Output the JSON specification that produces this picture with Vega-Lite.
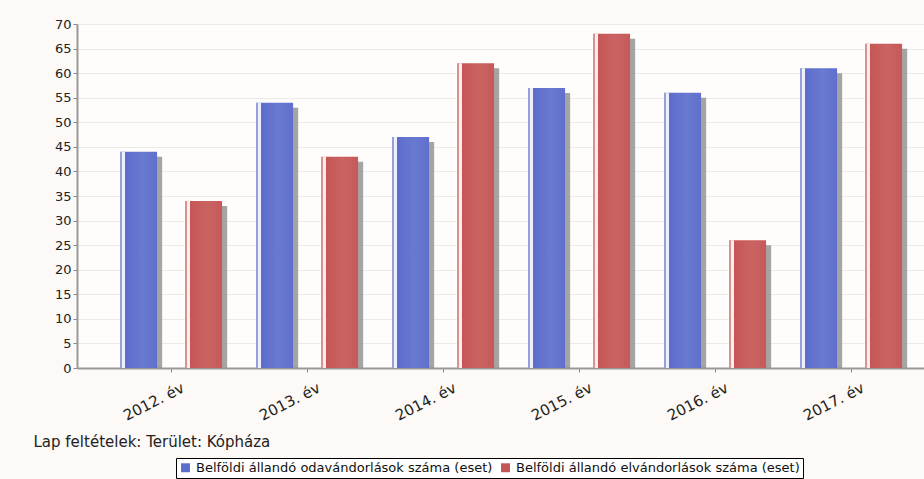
{
  "$schema": "https://vega.github.io/schema/vega-lite/v6.json",
  "width": 847,
  "height": 344,
  "autosize": {"type": "none"},
  "padding": {"left": 77, "top": 24, "right": 0, "bottom": 111},
  "background": "#fcf9f6",
  "config": {
    "view": {"stroke": null, "fill": "#fffdfb"},
    "font": "DejaVu Sans"
  },
  "data": {
    "values": [
      {"year": "2012. év", "series": "Belföldi állandó odavándorlások száma (eset)", "value": 44},
      {"year": "2012. év", "series": "Belföldi állandó elvándorlások száma (eset)", "value": 34},
      {"year": "2013. év", "series": "Belföldi állandó odavándorlások száma (eset)", "value": 54},
      {"year": "2013. év", "series": "Belföldi állandó elvándorlások száma (eset)", "value": 43},
      {"year": "2014. év", "series": "Belföldi állandó odavándorlások száma (eset)", "value": 47},
      {"year": "2014. év", "series": "Belföldi állandó elvándorlások száma (eset)", "value": 62},
      {"year": "2015. év", "series": "Belföldi állandó odavándorlások száma (eset)", "value": 57},
      {"year": "2015. év", "series": "Belföldi állandó elvándorlások száma (eset)", "value": 68},
      {"year": "2016. év", "series": "Belföldi állandó odavándorlások száma (eset)", "value": 56},
      {"year": "2016. év", "series": "Belföldi állandó elvándorlások száma (eset)", "value": 26},
      {"year": "2017. év", "series": "Belföldi állandó odavándorlások száma (eset)", "value": 61},
      {"year": "2017. év", "series": "Belföldi állandó elvándorlások száma (eset)", "value": 66}
    ]
  },
  "encoding": {
    "x": {
      "field": "year",
      "type": "nominal",
      "sort": null,
      "scale": {"paddingInner": 0, "paddingOuter": 0.114, "align": 0.84},
      "axis": {
        "title": "Lap feltételek: Terület: Kópháza",
        "titleFont": "DejaVu Sans",
        "titleFontSize": 15,
        "titleFontWeight": "normal",
        "titleColor": "#222222",
        "titleAnchor": "start",
        "titleAlign": "left",
        "titleBaseline": "alphabetic",
        "titleX": -44,
        "titleY": 78,
        "labelAngle": -27,
        "labelAlign": "right",
        "labelBaseline": "top",
        "labelFontSize": 15,
        "labelColor": "#222222",
        "labelPadding": 8,
        "labelOffset": 9,
        "tickColor": "#888888",
        "tickSize": 4,
        "domainColor": "#999999",
        "domainWidth": 2,
        "grid": false
      }
    },
    "y": {
      "field": "value",
      "type": "quantitative",
      "scale": {"domain": [0, 70], "nice": false},
      "axis": {
        "title": null,
        "values": [0, 5, 10, 15, 20, 25, 30, 35, 40, 45, 50, 55, 60, 65, 70],
        "labelFontSize": 13,
        "labelColor": "#222222",
        "tickColor": "#888888",
        "tickSize": 4,
        "domainColor": "#999999",
        "domainWidth": 2,
        "gridColor": "#ece9e6",
        "gridWidth": 1
      }
    }
  },
  "layer": [
    {
      "mark": {"type": "bar", "color": "#8e8e8e", "opacity": 0.8, "yOffset": 5, "clip": true},
      "encoding": {
        "xOffset": {
          "field": "series",
          "type": "nominal",
          "scale": {"domain": ["Belföldi állandó odavándorlások száma (eset)", "Belföldi állandó elvándorlások száma (eset)"], "paddingInner": 0.43, "paddingOuter": 0.261, "align": 0.65}
        }
      }
    },
    {
      "mark": {"type": "bar"},
      "encoding": {
        "xOffset": {
          "field": "series",
          "type": "nominal",
          "scale": {"domain": ["Belföldi állandó odavándorlások száma (eset)", "Belföldi állandó elvándorlások száma (eset)"], "paddingInner": 0.43, "paddingOuter": 0.261}
        },
        "color": {
          "field": "series",
          "type": "nominal",
          "scale": {
            "domain": ["Belföldi állandó odavándorlások száma (eset)", "Belföldi állandó elvándorlások száma (eset)"],
            "range": ["#5d6dcc", "#c65656"]
          },
          "legend": {
            "title": null,
            "orient": "none",
            "legendX": 99,
            "legendY": 434,
            "direction": "horizontal",
            "symbolType": "square",
            "symbolSize": 80,
            "symbolStrokeWidth": 0,
            "labelFontSize": 13,
            "labelColor": "#111111",
            "labelLimit": 0,
            "columnPadding": 6,
            "strokeColor": "#000000",
            "fillColor": "#ffffff",
            "padding": 3
          }
        }
      }
    },
    {
      "mark": {
        "type": "bar",
        "fill": {
          "gradient": "linear",
          "x1": 0, "x2": 1, "y1": 0, "y2": 0,
          "stops": [
            {"offset": 0, "color": "rgba(255,255,255,0.35)"},
            {"offset": 0.055, "color": "rgba(255,255,255,0.35)"},
            {"offset": 0.06, "color": "rgba(255,255,255,0.9)"},
            {"offset": 0.13, "color": "rgba(255,255,255,0.9)"},
            {"offset": 0.14, "color": "rgba(255,255,255,0.0)"},
            {"offset": 0.6, "color": "rgba(255,255,255,0.08)"},
            {"offset": 1, "color": "rgba(255,255,255,0.02)"}
          ]
        }
      },
      "encoding": {
        "xOffset": {
          "field": "series",
          "type": "nominal",
          "scale": {"domain": ["Belföldi állandó odavándorlások száma (eset)", "Belföldi állandó elvándorlások száma (eset)"], "paddingInner": 0.43, "paddingOuter": 0.261}
        }
      }
    }
  ],
  "resolve": {"scale": {"xOffset": "independent"}}
}
